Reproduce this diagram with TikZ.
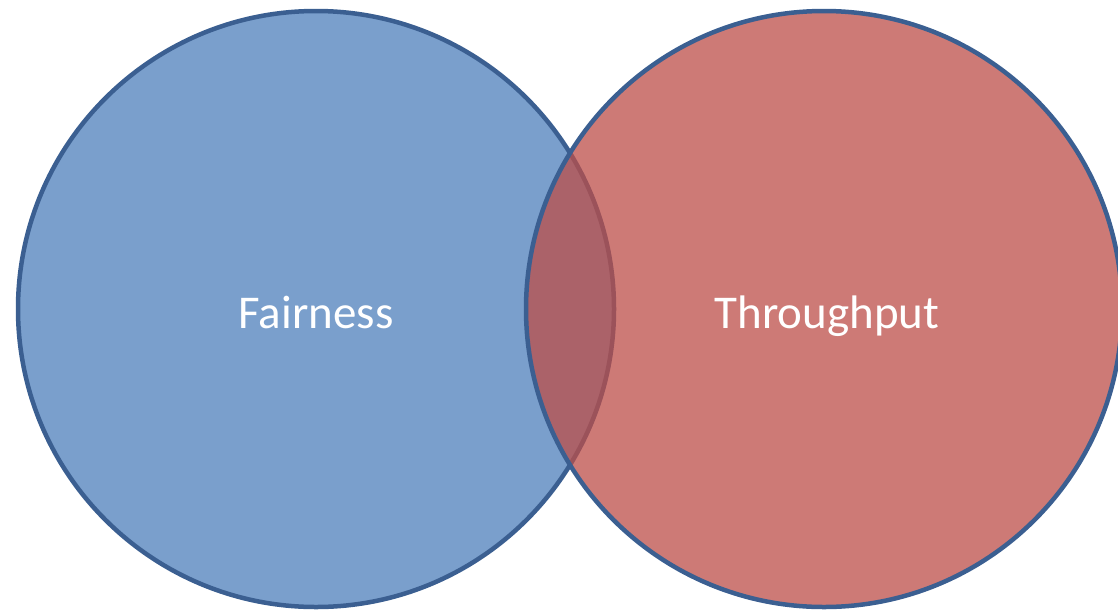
\documentclass[tikz,border=0pt]{standalone}
\usepackage{fontspec}
\setmainfont{Carlito}
\definecolor{bluefill}{RGB}{122,159,204}
\definecolor{redfill}{RGB}{188,78,72}
\definecolor{edge}{RGB}{59,95,145}
\begin{document}
\begin{tikzpicture}[x=1pt,y=-1pt,
  venn/.style={circle, draw=edge, line width=4.5pt, minimum size=596pt, inner sep=0pt},
  lbl/.style={text=white, anchor=base, font=\fontsize{47}{54}\selectfont}]
\useasboundingbox (0,0) rectangle (1118,611);
\begin{scope}
\clip (0,0) rectangle (1118,611);
\node[venn, fill=bluefill] (fair) at (316,309) {};
\node[venn, fill=redfill, fill opacity=0.75] (thr) at (824,309) {};
\end{scope}
\node[lbl] (fl) at (316,328) {Fairness};
\node[lbl] (tl) at (827,328) {Throughput};
\end{tikzpicture}
\end{document}
